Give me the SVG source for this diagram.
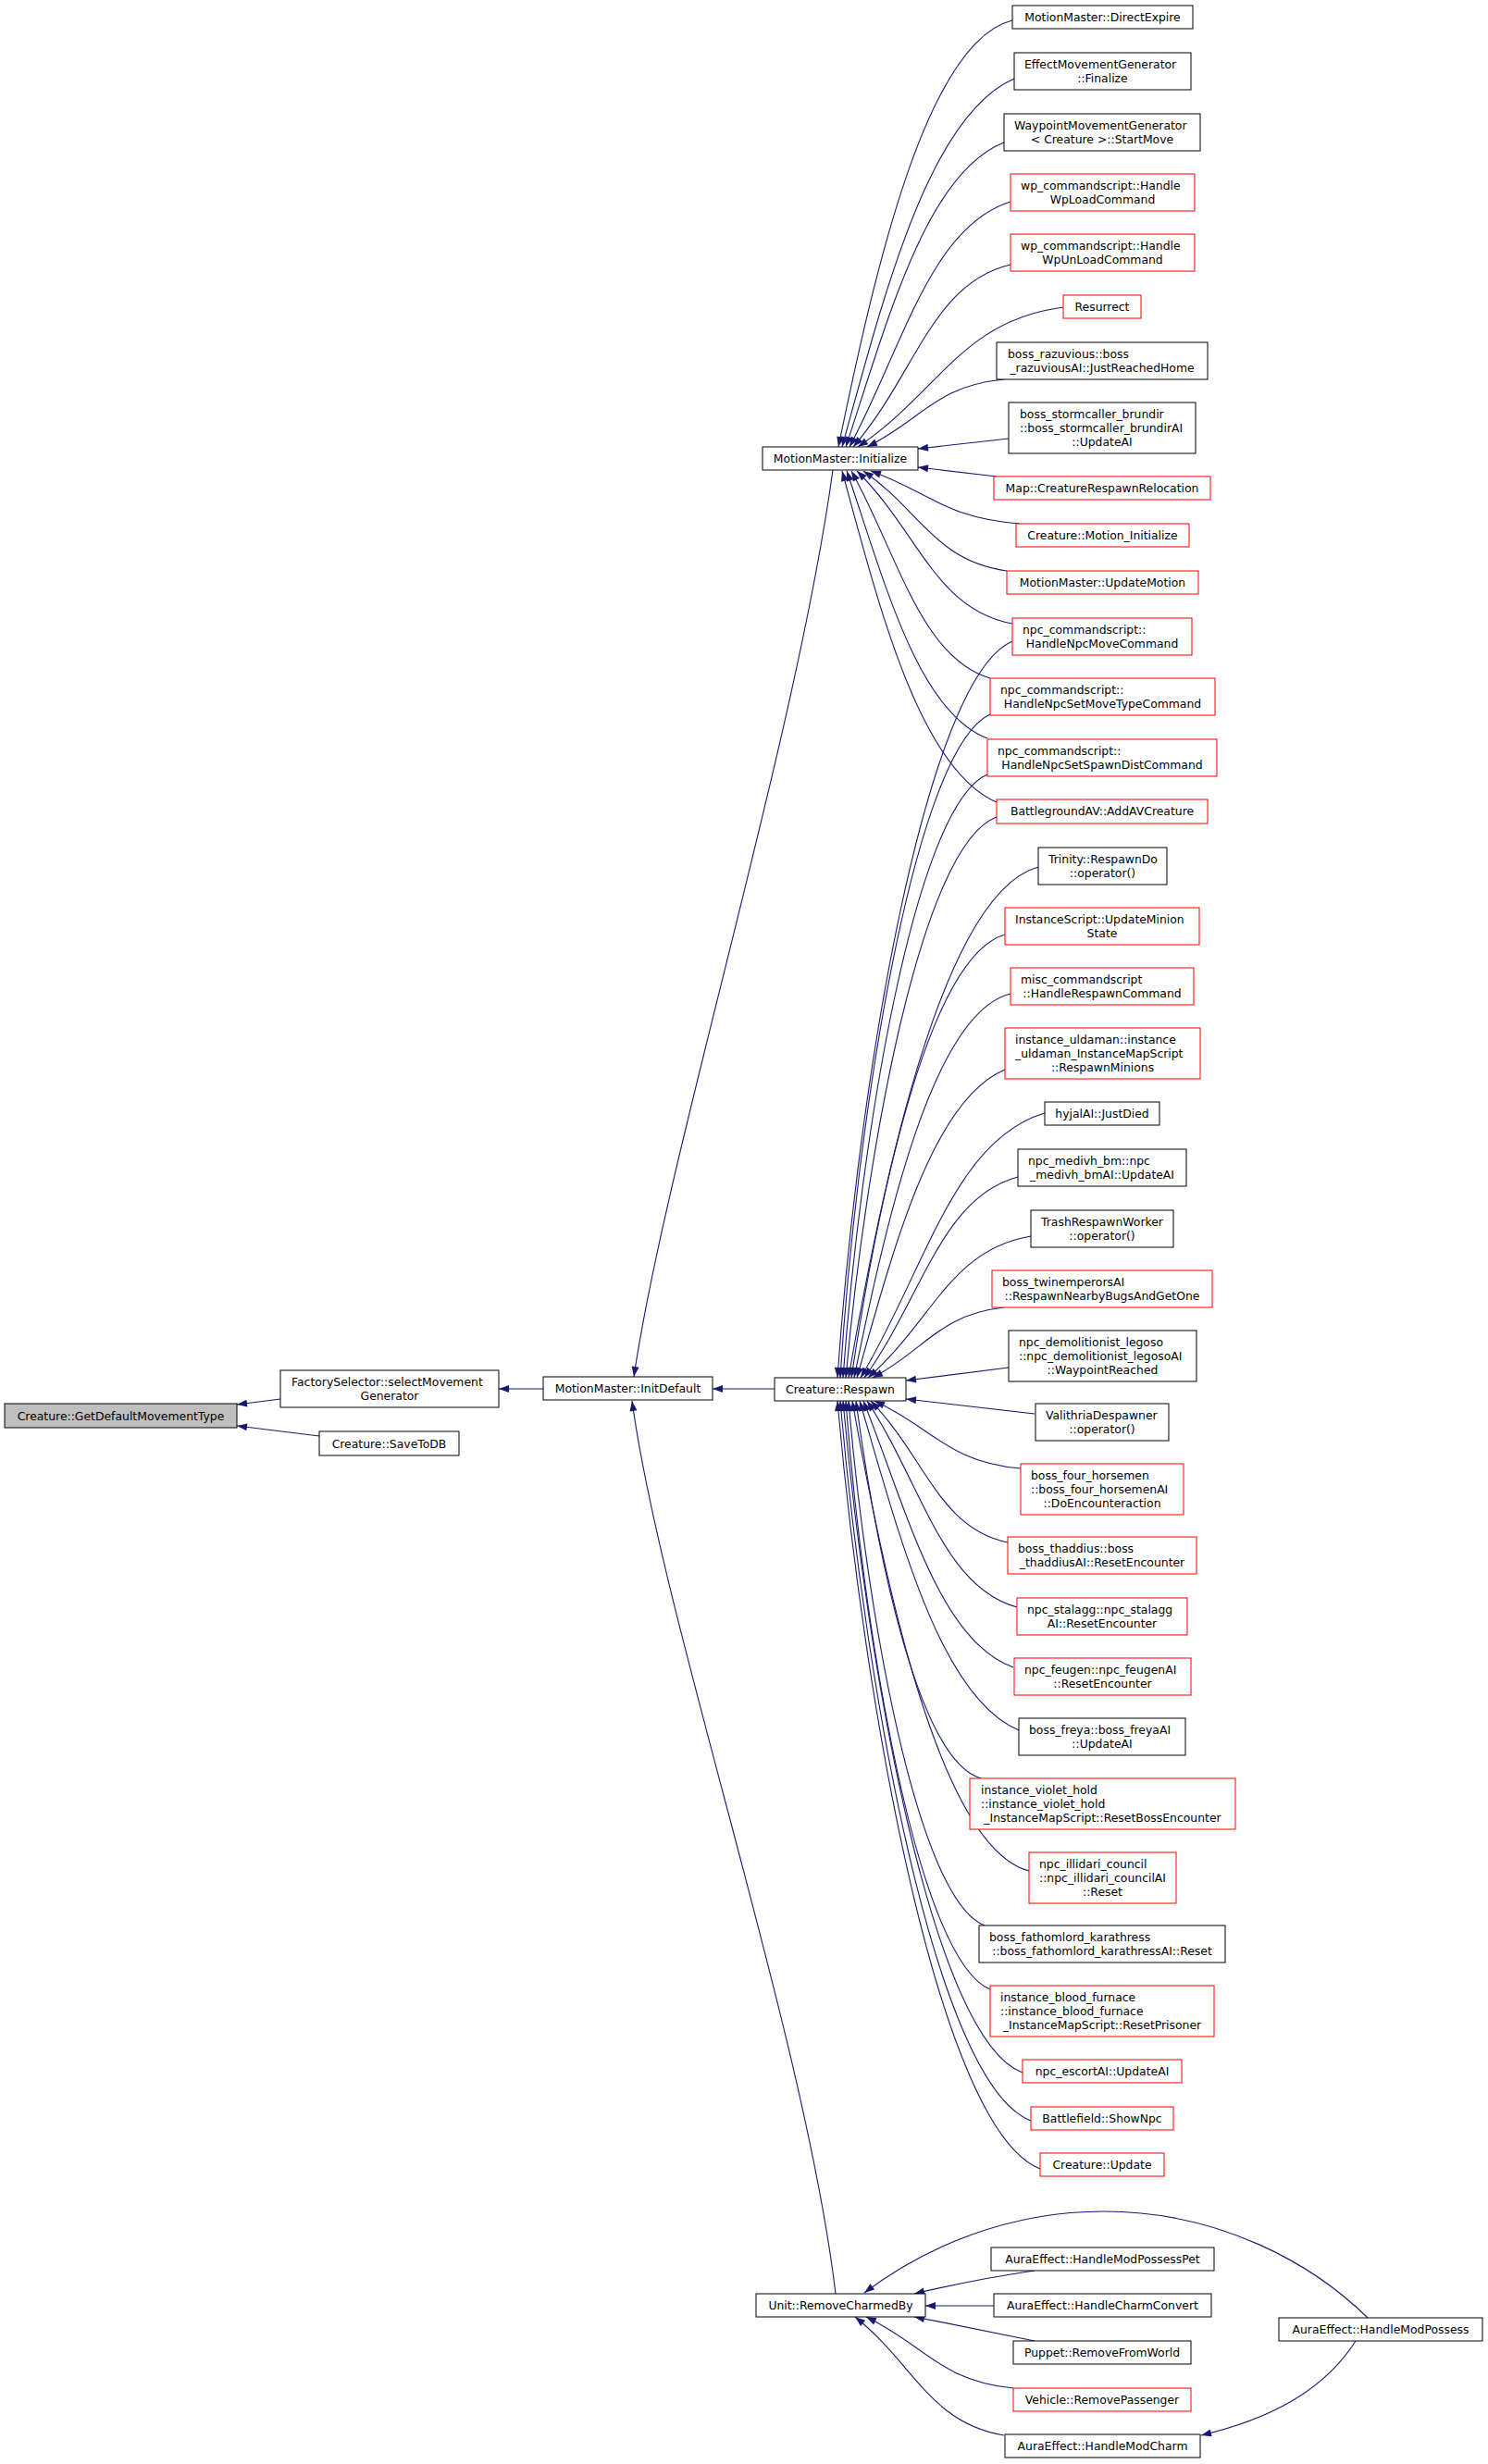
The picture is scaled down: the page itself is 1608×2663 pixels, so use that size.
<svg xmlns="http://www.w3.org/2000/svg" width="1608" height="2663" viewBox="0 0 1608 2663">
<style>
rect{fill:#fff;stroke:#000;stroke-width:1}
rect.r{stroke:#ff0000}
rect.g{fill:#bfbfbf}
text{font-family:"DejaVu Sans","Liberation Sans",sans-serif;font-size:12.4px;fill:#000}
text.c{text-anchor:middle}
#edges path{fill:none;stroke:#191970;stroke-width:1.1;marker-end:url(#ah)}
</style>
<defs>
<marker id="ah" markerWidth="12" markerHeight="9" refX="11" refY="4" orient="auto" markerUnits="userSpaceOnUse" overflow="visible"><path d="M0,0 L11,4 L0,8 z" fill="#191970" stroke="none"/></marker>
</defs>
<rect x="0" y="0" width="1608" height="2663" style="fill:#fff;stroke:none"/>
<g id="edges">
<path d="M1094,22 C1000,45 944,299 906,483"/>
<path d="M1096,85 C1003,125 954,324 910,483"/>
<path d="M1085,154 C1000,187 958,351 914,483"/>
<path d="M1092,218 C1005,245 975,377 918,483"/>
<path d="M1092,286 C1007,306 990,404 922,483"/>
<path d="M1149,332 C1038,347 1016,423 927,483"/>
<path d="M1085,410 C1011,417 996,454 937,483"/>
<path d="M1090,474 L992,485"/>
<path d="M1077,515 L992,505"/>
<path d="M1102,566 C1021,560 1005,532 941,509"/>
<path d="M1088,617 C1010,606 995,552 933,509"/>
<path d="M1094,674 C1010,658 993,575 926,509"/>
<path d="M1070,733 C995,711 970,599 920,509"/>
<path d="M1067,798 C991,769 955,625 915,509"/>
<path d="M1077,867 C993,831 949,652 910,509"/>
<path d="M1094,693 C1000,733 927,1171 905,1489"/>
<path d="M1070,772 C989,808 926,1202 908,1489"/>
<path d="M1067,837 C989,870 930,1228 911,1489"/>
<path d="M1077,883 C995,913 936,1247 914,1489"/>
<path d="M1122,937 C1020,965 955,1268 917,1489"/>
<path d="M1086,1010 C1003,1034 949,1297 920,1489"/>
<path d="M1092,1074 C1007,1095 957,1323 923,1489"/>
<path d="M1086,1156 C1006,1189 964,1356 926,1489"/>
<path d="M1129,1203 C1030,1232 999,1375 930,1489"/>
<path d="M1100,1272 C1017,1294 997,1402 934,1489"/>
<path d="M1114,1336 C1026,1351 1008,1428 938,1489"/>
<path d="M1085,1413 C1014,1421 1000,1459 943,1489"/>
<path d="M1090,1478 L979,1492"/>
<path d="M1118,1528 L979,1512"/>
<path d="M1103,1587 C1024,1580 1008,1543 945,1514"/>
<path d="M1089,1667 C1015,1652 1000,1575 941,1514"/>
<path d="M1099,1737 C1018,1715 996,1603 937,1514"/>
<path d="M1095,1802 C1014,1773 979,1629 933,1514"/>
<path d="M1101,1870 C1015,1834 971,1656 929,1514"/>
<path d="M1060,1922 C992,1902 947,1677 925,1514"/>
<path d="M1112,2022 C1017,1997 957,1717 921,1514"/>
<path d="M1064,2081 C991,2053 936,1741 917,1514"/>
<path d="M1070,2150 C992,2118 933,1768 914,1514"/>
<path d="M1105,2240 C1008,2204 937,1804 911,1514"/>
<path d="M1114,2292 C1011,2253 935,1825 908,1514"/>
<path d="M1124,2344 C1015,2302 934,1846 905,1514"/>
<path d="M1478,2505 C1420,2448 1320,2390 1193,2390 C1090,2390 1000,2428 934,2478"/>
<path d="M1118,2454 C1070,2461 1030,2469 988,2479"/>
<path d="M1074,2492 L1000,2492"/>
<path d="M1118,2530 C1070,2520 1030,2512 988,2504"/>
<path d="M1095,2581 C1016,2573 1000,2535 936,2504"/>
<path d="M1085,2632 C1005,2619 988,2555 924,2504"/>
<path d="M1465,2530 C1430,2585 1370,2615 1298,2632"/>
<path d="M900,508 C860,800 720,1250 685,1488"/>
<path d="M837,1501 L770,1501"/>
<path d="M903,2479 C870,2200 715,1750 683,1514"/>
<path d="M587,1501 L539,1501"/>
<path d="M303,1512 L256,1518"/>
<path d="M345,1552 L256,1541"/>
</g>
<g id="n_getdefault"><rect class="g" x="5" y="1517" width="251" height="26"/><text class="c" x="130.5" y="1534.5">Creature::GetDefaultMovementType</text></g>
<g id="n_factory"><rect x="303" y="1481" width="236" height="40"/><text x="315" y="1498">FactorySelector::selectMovement</text><text class="c" x="421" y="1513">Generator</text></g>
<g id="n_savetodb"><rect x="345" y="1547" width="151" height="26"/><text class="c" x="420.5" y="1564.5">Creature::SaveToDB</text></g>
<g id="n_initdefault"><rect x="587" y="1488" width="183" height="25"/><text class="c" x="678.5" y="1505">MotionMaster::InitDefault</text></g>
<g id="n_initialize"><rect x="824" y="483" width="168" height="25"/><text class="c" x="908" y="500">MotionMaster::Initialize</text></g>
<g id="n_respawn"><rect x="837" y="1489" width="142" height="25"/><text class="c" x="908" y="1506">Creature::Respawn</text></g>
<g id="n_removecharmed"><rect x="817" y="2479" width="183" height="25"/><text class="c" x="908.5" y="2496">Unit::RemoveCharmedBy</text></g>
<g id="n_directexpire"><rect x="1094" y="6" width="195" height="25"/><text class="c" x="1191.5" y="23">MotionMaster::DirectExpire</text></g>
<g id="n_finalize"><rect x="1096" y="57" width="191" height="40"/><text x="1107" y="74">EffectMovementGenerator</text><text class="c" x="1191.5" y="89">::Finalize</text></g>
<g id="n_startmove"><rect x="1085" y="123" width="212" height="40"/><text x="1096" y="140">WaypointMovementGenerator</text><text class="c" x="1191" y="155">&lt; Creature &gt;::StartMove</text></g>
<g id="n_wpload"><rect class="r" x="1092" y="188" width="199" height="40"/><text x="1103" y="205">wp_commandscript::Handle</text><text class="c" x="1191.5" y="220">WpLoadCommand</text></g>
<g id="n_wpunload"><rect class="r" x="1092" y="253" width="199" height="40"/><text x="1103" y="270">wp_commandscript::Handle</text><text class="c" x="1191.5" y="285">WpUnLoadCommand</text></g>
<g id="n_resurrect"><rect class="r" x="1149" y="319" width="84" height="25"/><text class="c" x="1191" y="336">Resurrect</text></g>
<g id="n_razuvious"><rect x="1077" y="370" width="228" height="40"/><text x="1089" y="387">boss_razuvious::boss</text><text class="c" x="1191" y="402">_razuviousAI::JustReachedHome</text></g>
<g id="n_stormcaller"><rect x="1090" y="435" width="202" height="55"/><text x="1102" y="452">boss_stormcaller_brundir</text><text x="1102" y="467">::boss_stormcaller_brundirAI</text><text class="c" x="1191" y="482">::UpdateAI</text></g>
<g id="n_mapreloc"><rect class="r" x="1074" y="515" width="234" height="25"/><text class="c" x="1191" y="532">Map::CreatureRespawnRelocation</text></g>
<g id="n_motioninit"><rect class="r" x="1098" y="566" width="187" height="25"/><text class="c" x="1191.5" y="583">Creature::Motion_Initialize</text></g>
<g id="n_updatemotion"><rect class="r" x="1088" y="617" width="207" height="25"/><text class="c" x="1191.5" y="634">MotionMaster::UpdateMotion</text></g>
<g id="n_npcmove"><rect class="r" x="1094" y="668" width="194" height="40"/><text x="1105" y="685">npc_commandscript::</text><text class="c" x="1191" y="700">HandleNpcMoveCommand</text></g>
<g id="n_npcmovetype"><rect class="r" x="1070" y="733" width="243" height="40"/><text x="1081" y="750">npc_commandscript::</text><text class="c" x="1191.5" y="765">HandleNpcSetMoveTypeCommand</text></g>
<g id="n_npcspawndist"><rect class="r" x="1067" y="799" width="248" height="40"/><text x="1078" y="816">npc_commandscript::</text><text class="c" x="1191" y="831">HandleNpcSetSpawnDistCommand</text></g>
<g id="n_bgav"><rect class="r" x="1077" y="864" width="228" height="26"/><text class="c" x="1191" y="881">BattlegroundAV::AddAVCreature</text></g>
<g id="n_respawndo"><rect x="1122" y="916" width="139" height="40"/><text x="1133" y="933">Trinity::RespawnDo</text><text class="c" x="1191.5" y="948">::operator()</text></g>
<g id="n_minion"><rect class="r" x="1086" y="981" width="210" height="40"/><text x="1097" y="998">InstanceScript::UpdateMinion</text><text class="c" x="1191" y="1013">State</text></g>
<g id="n_misc"><rect class="r" x="1092" y="1046" width="198" height="40"/><text x="1103" y="1063">misc_commandscript</text><text class="c" x="1191" y="1078">::HandleRespawnCommand</text></g>
<g id="n_uldaman"><rect class="r" x="1086" y="1111" width="211" height="55"/><text x="1097" y="1128">instance_uldaman::instance</text><text x="1097" y="1143">_uldaman_InstanceMapScript</text><text class="c" x="1191.5" y="1158">::RespawnMinions</text></g>
<g id="n_hyjal"><rect x="1129" y="1191" width="124" height="25"/><text class="c" x="1191" y="1208">hyjalAI::JustDied</text></g>
<g id="n_medivh"><rect x="1100" y="1242" width="182" height="40"/><text x="1111" y="1259">npc_medivh_bm::npc</text><text class="c" x="1191" y="1274">_medivh_bmAI::UpdateAI</text></g>
<g id="n_trash"><rect x="1114" y="1308" width="154" height="40"/><text x="1125" y="1325">TrashRespawnWorker</text><text class="c" x="1191" y="1340">::operator()</text></g>
<g id="n_twin"><rect class="r" x="1072" y="1373" width="238" height="40"/><text x="1083" y="1390">boss_twinemperorsAI</text><text class="c" x="1191" y="1405">::RespawnNearbyBugsAndGetOne</text></g>
<g id="n_legoso"><rect x="1090" y="1438" width="203" height="55"/><text x="1101" y="1455">npc_demolitionist_legoso</text><text x="1101" y="1470">::npc_demolitionist_legosoAI</text><text class="c" x="1191.5" y="1485">::WaypointReached</text></g>
<g id="n_valithria"><rect x="1119" y="1517" width="144" height="40"/><text x="1130" y="1534">ValithriaDespawner</text><text class="c" x="1191" y="1549">::operator()</text></g>
<g id="n_horsemen"><rect class="r" x="1103" y="1582" width="176" height="55"/><text x="1114" y="1599">boss_four_horsemen</text><text x="1114" y="1614">::boss_four_horsemenAI</text><text class="c" x="1191" y="1629">::DoEncounteraction</text></g>
<g id="n_thaddius"><rect class="r" x="1089" y="1661" width="204" height="40"/><text x="1100" y="1678">boss_thaddius::boss</text><text class="c" x="1191" y="1693">_thaddiusAI::ResetEncounter</text></g>
<g id="n_stalagg"><rect class="r" x="1099" y="1727" width="184" height="40"/><text x="1110" y="1744">npc_stalagg::npc_stalagg</text><text class="c" x="1191" y="1759">AI::ResetEncounter</text></g>
<g id="n_feugen"><rect class="r" x="1096" y="1792" width="191" height="40"/><text x="1107" y="1809">npc_feugen::npc_feugenAI</text><text class="c" x="1191.5" y="1824">::ResetEncounter</text></g>
<g id="n_freya"><rect x="1101" y="1857" width="180" height="40"/><text x="1112" y="1874">boss_freya::boss_freyaAI</text><text class="c" x="1191" y="1889">::UpdateAI</text></g>
<g id="n_violet"><rect class="r" x="1048" y="1922" width="287" height="55"/><text x="1060" y="1939">instance_violet_hold</text><text x="1060" y="1954">::instance_violet_hold</text><text class="c" x="1191.5" y="1969">_InstanceMapScript::ResetBossEncounter</text></g>
<g id="n_illidari"><rect class="r" x="1112" y="2002" width="159" height="55"/><text x="1123" y="2019">npc_illidari_council</text><text x="1123" y="2034">::npc_illidari_councilAI</text><text class="c" x="1191.5" y="2049">::Reset</text></g>
<g id="n_fathomlord"><rect x="1058" y="2081" width="266" height="40"/><text x="1069" y="2098">boss_fathomlord_karathress</text><text class="c" x="1191" y="2113">::boss_fathomlord_karathressAI::Reset</text></g>
<g id="n_bloodfurnace"><rect class="r" x="1070" y="2146" width="242" height="55"/><text x="1081" y="2163">instance_blood_furnace</text><text x="1081" y="2178">::instance_blood_furnace</text><text class="c" x="1191" y="2193">_InstanceMapScript::ResetPrisoner</text></g>
<g id="n_escort"><rect class="r" x="1105" y="2226" width="172" height="25"/><text class="c" x="1191" y="2243">npc_escortAI::UpdateAI</text></g>
<g id="n_shownpc"><rect class="r" x="1114" y="2277" width="154" height="25"/><text class="c" x="1191" y="2294">Battlefield::ShowNpc</text></g>
<g id="n_update"><rect class="r" x="1124" y="2327" width="134" height="25"/><text class="c" x="1191" y="2344">Creature::Update</text></g>
<g id="n_possesspet"><rect x="1071" y="2429" width="241" height="25"/><text class="c" x="1191.5" y="2446">AuraEffect::HandleModPossessPet</text></g>
<g id="n_charmconvert"><rect x="1074" y="2479" width="235" height="25"/><text class="c" x="1191.5" y="2496">AuraEffect::HandleCharmConvert</text></g>
<g id="n_puppet"><rect x="1095" y="2530" width="192" height="25"/><text class="c" x="1191" y="2547">Puppet::RemoveFromWorld</text></g>
<g id="n_vehicle"><rect class="r" x="1095" y="2581" width="192" height="25"/><text class="c" x="1191" y="2598">Vehicle::RemovePassenger</text></g>
<g id="n_modcharm"><rect x="1086" y="2631" width="211" height="25"/><text class="c" x="1191.5" y="2648">AuraEffect::HandleModCharm</text></g>
<g id="n_modpossess"><rect x="1382" y="2505" width="220" height="25"/><text class="c" x="1492" y="2522">AuraEffect::HandleModPossess</text></g>
</svg>
